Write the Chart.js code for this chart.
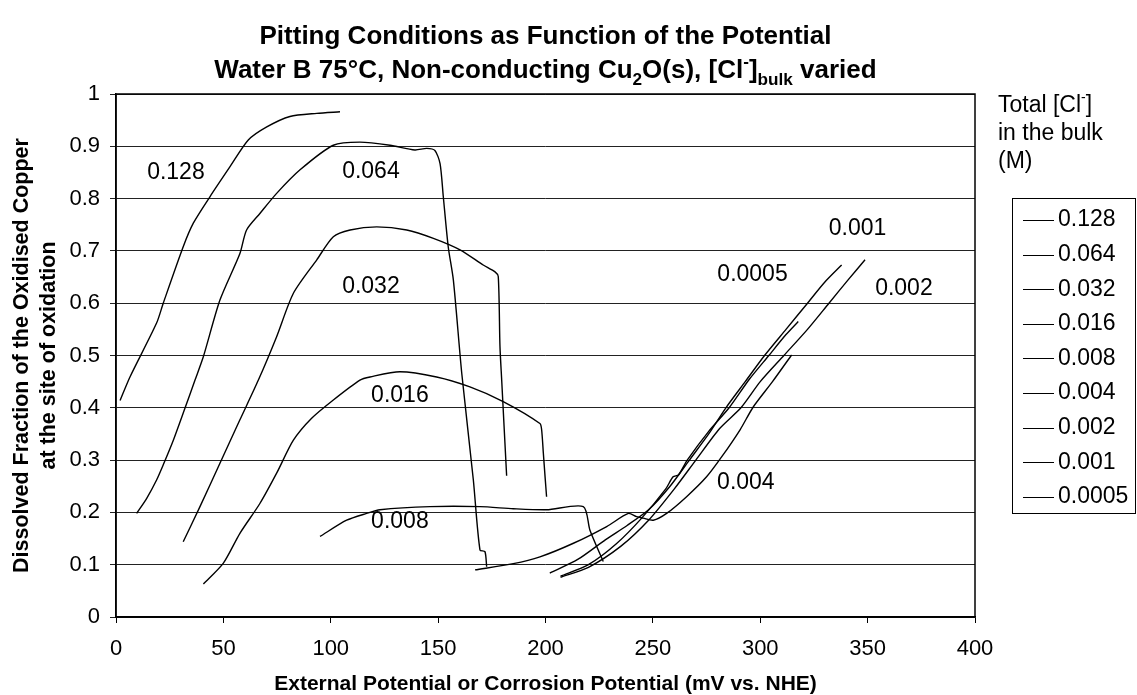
<!DOCTYPE html>
<html>
<head>
<meta charset="utf-8">
<script src="https://cdn.jsdelivr.net/npm/chart.js@4"></script>
<style>
  html, body { margin: 0; padding: 0; background: #fff; }
  canvas { display: block; }
</style>
</head>
<body>
<canvas id="grafico" width="1137" height="695" style="width:1137px;height:695px"></canvas>
<script>
// valores (mV vs. NHE / fração dissolvida)
const cl128X = [1.9, 6.5, 18.9, 22, 31.3, 36, 43.8, 53.1, 61.6, 70.2, 81, 93.5, 104.3];
const cl128Y = [0.414, 0.459, 0.562, 0.6, 0.708, 0.753, 0.804, 0.861, 0.912, 0.937, 0.957, 0.963, 0.966];

const cl064X = [9.6, 14.3, 18.9, 22, 26.7, 32.1, 36.8, 40.7, 48.4, 57.7, 60.8, 67.1, 74.8, 85.7, 101.2, 113.6, 127.6, 139.2, 144.7, 148.5, 150.9, 152.4, 154.7, 157.1, 161, 166.4, 169.5, 171.8, 172.6];
const cl064Y = [0.198, 0.227, 0.262, 0.291, 0.338, 0.399, 0.453, 0.498, 0.606, 0.695, 0.740, 0.772, 0.810, 0.855, 0.902, 0.908, 0.902, 0.893, 0.896, 0.892, 0.867, 0.804, 0.708, 0.644, 0.466, 0.262, 0.128, 0.125, 0.096];

const cl032X = [31.3, 39.1, 48.4, 57.7, 66.3, 74.8, 82.6, 93.5, 101.2, 109, 121.4, 135.4, 147.8, 160.2, 171, 176.5, 178, 178.8, 179.6, 181.9];
const cl032Y = [0.144, 0.211, 0.294, 0.377, 0.453, 0.536, 0.619, 0.683, 0.727, 0.740, 0.746, 0.740, 0.724, 0.702, 0.673, 0.660, 0.651, 0.517, 0.453, 0.270];

const cl016X = [40.7, 50, 57.7, 67, 74.8, 82.6, 91.1, 101.2, 113.6, 118.3, 132.2, 149.3, 164.8, 180.3, 197.4, 198.2, 199, 199.8, 200.5];
const cl016Y = [0.063, 0.103, 0.160, 0.217, 0.275, 0.338, 0.380, 0.415, 0.453, 0.459, 0.469, 0.459, 0.440, 0.412, 0.370, 0.358, 0.313, 0.268, 0.230];

const cl008X = [95, 107.4, 116.7, 122.9, 146.2, 169.5, 185, 200.5, 217.6, 220.7, 226.9];
const cl008Y = [0.154, 0.185, 0.198, 0.205, 0.211, 0.211, 0.207, 0.205, 0.211, 0.166, 0.106];

const cl004X = [167.2, 185, 197.4, 213, 228.5, 238.6, 242.4, 245.5, 250.2, 256.4, 265.7, 275, 282, 290.6, 296.8, 305.7, 314.6];
const cl004Y = [0.090, 0.102, 0.115, 0.141, 0.173, 0.198, 0.192, 0.189, 0.185, 0.198, 0.230, 0.268, 0.306, 0.358, 0.402, 0.450, 0.501];

const cl002X = [207, 220, 235, 248, 260, 270, 281, 291, 300, 311, 322, 332, 341, 348.8];
const cl002Y = [0.076, 0.095, 0.135, 0.185, 0.245, 0.300, 0.360, 0.400, 0.450, 0.500, 0.550, 0.600, 0.645, 0.683];

const cl001X = [202, 215, 228, 238, 248, 258, 267, 276, 284, 293, 302, 312, 322, 330, 337.9];
const cl001Y = [0.084, 0.110, 0.148, 0.175, 0.205, 0.250, 0.300, 0.350, 0.400, 0.450, 0.500, 0.550, 0.600, 0.640, 0.673];

const cl0005X = [207, 220, 233, 245, 256, 259.4, 262, 266, 276, 285.5, 295, 304, 312, 317.7];
const cl0005Y = [0.078, 0.100, 0.140, 0.190, 0.245, 0.268, 0.272, 0.300, 0.355, 0.400, 0.455, 0.500, 0.540, 0.565];

const nomesSeries = ["0.128", "0.064", "0.032", "0.016", "0.008", "0.004", "0.002", "0.001", "0.0005"];
const valoresX = [cl128X, cl064X, cl032X, cl016X, cl008X, cl004X, cl002X, cl001X, cl0005X];
const valoresY = [cl128Y, cl064Y, cl032Y, cl016Y, cl008Y, cl004Y, cl002Y, cl001Y, cl0005Y];

// rótulos escritos dentro do gráfico
const rotuloTexto = ["0.128", "0.064", "0.032", "0.016", "0.008", "0.004", "0.0005", "0.001", "0.002"];
const rotuloX = [27.9, 118.7, 118.7, 132.2, 132.2, 293.3, 296.4, 345.3, 366.9];
const rotuloY = [0.849, 0.851, 0.632, 0.424, 0.182, 0.256, 0.654, 0.743, 0.628];

const FONTE = '"Liberation Sans", Arial, sans-serif';

function desenharRico(ctx, partes, cx, cy, tam) {
  // mede o texto com índices e expoentes
  let largura = 0;
  partes.forEach(p => {
    const t = p.tipo ? tam * 0.66 : tam;
    ctx.font = `bold ${t}px ${FONTE}`;
    largura += ctx.measureText(p.t).width;
  });
  let px = cx - largura / 2;
  ctx.textAlign = "left";
  ctx.textBaseline = "alphabetic";
  partes.forEach(p => {
    const t = p.tipo ? tam * 0.66 : tam;
    ctx.font = `bold ${t}px ${FONTE}`;
    let dy = 0;
    if (p.tipo === "sub") dy = tam * 0.28;
    if (p.tipo === "sup") dy = -tam * 0.42;
    ctx.fillText(p.t, px, cy + dy);
    px += ctx.measureText(p.t).width;
  });
}

const desenhoExtra = {
  id: "desenhoExtra",
  beforeDraw(chart) {
    const ctx = chart.ctx;
    ctx.save();
    ctx.fillStyle = "#fff";
    ctx.fillRect(0, 0, chart.width, chart.height);
    ctx.restore();
  },
  afterDraw(chart) {
    const ctx = chart.ctx;
    const a = chart.chartArea;
    const x = chart.scales.x;
    const y = chart.scales.y;
    ctx.save();

    // moldura da área do gráfico
    ctx.strokeStyle = "#000";
    ctx.lineWidth = 1.5;
    ctx.strokeRect(a.left, a.top, a.right - a.left, a.bottom - a.top);

    // rótulos das curvas
    ctx.fillStyle = "#000";
    ctx.font = `23px ${FONTE}`;
    ctx.textAlign = "center";
    ctx.textBaseline = "middle";
    rotuloTexto.forEach((t, i) => {
      ctx.fillText(t, x.getPixelForValue(rotuloX[i]), y.getPixelForValue(rotuloY[i]));
    });

    // título
    const cx = (a.left + a.right) / 2;
    ctx.font = `bold 26px ${FONTE}`;
    ctx.textAlign = "center";
    ctx.textBaseline = "alphabetic";
    ctx.fillText("Pitting Conditions as Function of the Potential", cx, 44);
    desenharRico(ctx, [
      { t: "Water B 75°C, Non-conducting Cu" },
      { t: "2", tipo: "sub" },
      { t: "O(s), [Cl" },
      { t: "-", tipo: "sup" },
      { t: "]" },
      { t: "bulk", tipo: "sub" },
      { t: " varied" }
    ], cx, 78, 26);

    // títulos dos eixos
    ctx.font = `bold 21px ${FONTE}`;
    ctx.textAlign = "center";
    ctx.textBaseline = "middle";
    ctx.fillText("External Potential or Corrosion Potential (mV vs. NHE)", cx, 684);
    const cy = (a.top + a.bottom) / 2;
    ctx.font = `bold 21.5px ${FONTE}`;
    ctx.save();
    ctx.translate(22, cy);
    ctx.rotate(-Math.PI / 2);
    ctx.fillText("Dissolved Fraction of the Oxidised Copper", 0, 0);
    ctx.restore();
    ctx.save();
    ctx.translate(49, cy);
    ctx.rotate(-Math.PI / 2);
    ctx.fillText("at the site of oxidation", 0, 0);
    ctx.restore();

    // título da legenda
    ctx.font = `23px ${FONTE}`;
    ctx.textAlign = "left";
    ctx.textBaseline = "alphabetic";
    ctx.fillText("Total [Cl", 998, 112);
    const wCl = ctx.measureText("Total [Cl").width;
    ctx.font = `14px ${FONTE}`;
    ctx.fillText("-", 998 + wCl, 102);
    const wMenos = ctx.measureText("-").width;
    ctx.font = `23px ${FONTE}`;
    ctx.fillText("]", 998 + wCl + wMenos, 112);
    ctx.fillText("in the bulk", 998, 140);
    ctx.fillText("(M)", 998, 168);

    // legenda
    ctx.lineWidth = 1;
    ctx.strokeStyle = "#000";
    ctx.strokeRect(1012.5, 198.5, 123, 315);
    ctx.textBaseline = "middle";
    nomesSeries.forEach((nome, i) => {
      const ly = 220 + i * 34.6;
      ctx.beginPath();
      ctx.moveTo(1023, Math.round(ly) + 0.5);
      ctx.lineTo(1054, Math.round(ly) + 0.5);
      ctx.stroke();
      ctx.fillText(nome, 1058, ly);
    });
    ctx.restore();
  }
};

const conjuntos = nomesSeries.map((nome, i) => ({
  label: nome,
  data: valoresX[i].map((vx, j) => ({ x: vx, y: valoresY[i][j] })),
  showLine: true,
  borderColor: "#000",
  borderWidth: 1.4,
  pointRadius: 0,
  tension: 0.25,
  fill: false
}));

const ctx = document.getElementById("grafico").getContext("2d");
const grafico = new Chart(ctx, {
  type: "scatter",
  data: { datasets: conjuntos },
  plugins: [desenhoExtra],
  options: {
    responsive: false,
    animation: false,
    devicePixelRatio: 1,
    layout: { padding: { top: 94, right: 162, left: 0, bottom: 0 } },
    plugins: {
      legend: { display: false },
      title: { display: false },
      tooltip: { enabled: false }
    },
    scales: {
      x: {
        type: "linear",
        min: 0,
        max: 400,
        afterFit: s => { s.height = 78; },
        ticks: {
          stepSize: 50,
          color: "#000",
          padding: 13,
          font: { family: FONTE, size: 22 }
        },
        grid: { drawOnChartArea: false, color: "#000", tickLength: 6 },
        border: { color: "#000", width: 1.5 }
      },
      y: {
        type: "linear",
        min: 0,
        max: 1,
        afterFit: s => { s.width = 116; },
        ticks: {
          stepSize: 0.1,
          color: "#000",
          padding: 10,
          font: { family: FONTE, size: 22 },
          callback: v => Math.round(v * 10) / 10
        },
        grid: { color: "#222", lineWidth: 1, tickLength: 6 },
        border: { color: "#000", width: 1.5 }
      }
    }
  }
});
</script>
</body>
</html>
